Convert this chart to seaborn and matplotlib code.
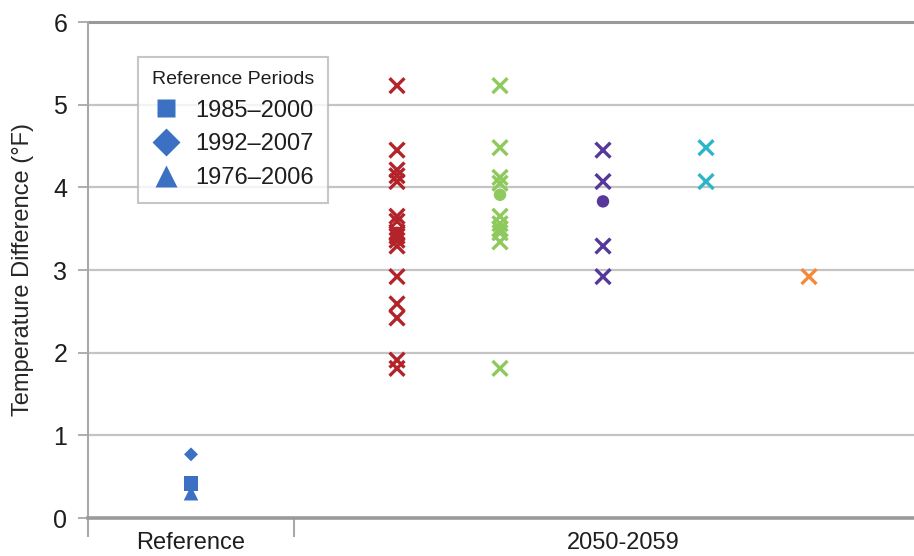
import numpy as np
import pandas as pd
import matplotlib
matplotlib.use("Agg")
import matplotlib.pyplot as plt
from matplotlib.lines import Line2D
import seaborn as sns

# ---- data ----
groups = ["Model A", "Model B", "Model C", "Model D", "Model E"]
model_a = [5.23, 4.45, 4.21, 4.14, 4.07, 3.65, 3.59, 3.46, 3.41, 3.36, 3.29, 2.92, 2.59, 2.42, 1.91, 1.81]
model_b = [5.23, 4.48, 4.12, 4.05, 3.65, 3.56, 3.50, 3.45, 3.34, 1.81]
model_c = [4.45, 4.07, 3.29, 2.92]
model_d = [4.48, 4.07]
model_e = [2.92]
means = [3.45, 3.91, 3.83, None, None]

ref_periods = ["1985\u20132000", "1992\u20132007", "1976\u20132006"]
ref_values = [0.42, 0.77, 0.30]

x_labels = ["Reference", "2050-2059"]
y_ticks = [0, 1, 2, 3, 4, 5, 6]

colors = ["#B3232A", "#8DC95B", "#55389A", "#2AB6C8", "#F5893A"]
ref_color = "#3B70C2"

series = [model_a, model_b, model_c, model_d, model_e]
pos = {g: 3 + i for i, g in enumerate(groups)}
df = pd.DataFrame({
    "group": [g for g, s in zip(groups, series) for _ in s],
    "value": [v for s in series for v in s],
})
df["x"] = df["group"].map(pos)

sns.set_style("white")
plt.rcParams["font.family"] = ["Liberation Sans", "DejaVu Sans"]
plt.rcParams["text.color"] = "#1e1e1e"
plt.rcParams["xtick.labelcolor"] = "#1e1e1e"
plt.rcParams["ytick.labelcolor"] = "#1e1e1e"

fig = plt.figure(figsize=(9.14, 5.56), dpi=100)
ax = fig.add_axes([88 / 914, 38 / 556, 1 - 88 / 914, 496 / 556])

# grid lines
for yv in y_ticks[1:-1]:
    ax.axhline(yv, color="#c4c4c4", lw=1.6, zorder=0)
ax.axhline(6, color="#9a9a9a", lw=2.2, zorder=0, clip_on=False)

sns.scatterplot(data=df, x="x", y="value", hue="group", palette=colors,
                marker="x", s=115, linewidth=2.4, legend=False, ax=ax, zorder=3)

for g, m, c in zip(groups, means, colors):
    if m is not None:
        ax.scatter([pos[g]], [m], s=80, color=c, edgecolor="none", zorder=4)

ref_markers = ["s", "D", "^"]
ref_sizes = [110, 50, 110]
for p, v, mk, sz in zip(ref_periods, ref_values, ref_markers, ref_sizes):
    ax.scatter([1], [v], marker=mk, s=sz, color=ref_color, edgecolor="none", zorder=4)

ax.set_xlim(0, (914 - 88) / 103)
ax.set_ylim(0, 6)

for sp in ["top", "right"]:
    ax.spines[sp].set_visible(False)
ax.spines["left"].set_color("#a8a8a8")
ax.spines["left"].set_linewidth(1.5)
ax.spines["bottom"].set_color("#9a9a9a")
ax.spines["bottom"].set_linewidth(2.6)

ax.set_yticks(y_ticks)
ax.set_yticklabels([str(t) for t in y_ticks], fontsize=18)
ax.tick_params(axis="y", length=7, width=1.3, color="#a8a8a8", pad=8, left=True)

ax.set_xticks([1, 5.2])
ax.set_xticklabels(x_labels, fontsize=17)
ax.set_xticks([0, 2], minor=True)
ax.tick_params(axis="x", which="major", length=0, pad=10, bottom=True)
ax.tick_params(axis="x", which="minor", length=14, width=1.5, color="#a8a8a8", bottom=True)

ax.set_xlabel("")
ax.set_ylabel("Temperature Difference (\u00b0F)", fontsize=17, labelpad=14)

handles = [Line2D([], [], marker=mk, linestyle="none", color=ref_color, markeredgecolor="none",
                  markersize=ms) for mk, ms in zip(ref_markers, [13, 14, 16])]
leg = ax.legend(handles, ref_periods, title="Reference Periods", loc="upper left",
                bbox_to_anchor=(0.06, 0.93), borderaxespad=0, fancybox=False,
                frameon=True, fontsize=17, title_fontsize=14, handletextpad=0.6,
                labelspacing=0.5, borderpad=0.6, handlelength=1.2)
leg.get_frame().set_edgecolor("#b8b8b8")
leg.get_frame().set_linewidth(1.5)

fig.savefig("out.png", dpi=100)
